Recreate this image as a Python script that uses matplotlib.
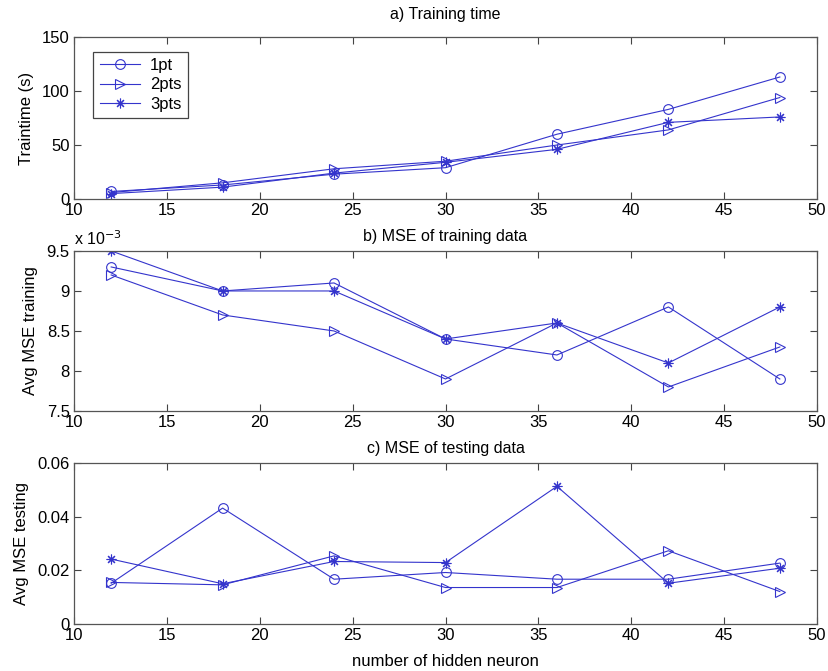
import matplotlib
matplotlib.use('Agg')
import matplotlib.pyplot as plt
from matplotlib.ticker import FuncFormatter

plt.rcParams['font.family'] = ['Liberation Sans', 'DejaVu Sans']
plt.rcParams['font.size'] = 12

# Data
neurons = [12, 18, 24, 30, 36, 42, 48]
labels = ['1pt', '2pts', '3pts']

# a) training time (s)
time_1pt = [7, 13, 23, 29, 60, 83, 113]
time_2pts = [6, 15, 28, 35, 50, 64, 94]
time_3pts = [5, 11, 24, 34, 46, 71, 76]

# b) MSE of training data (x 1e-3)
train_1pt = [9.3, 9.0, 9.1, 8.4, 8.2, 8.8, 7.9]
train_2pts = [9.2, 8.7, 8.5, 7.9, 8.6, 7.8, 8.3]
train_3pts = [9.5, 9.0, 9.0, 8.4, 8.6, 8.1, 8.8]

# c) MSE of testing data
test_1pt = [0.0152, 0.0432, 0.0167, 0.0192, 0.0167, 0.0167, 0.0227]
test_2pts = [0.0155, 0.0146, 0.0254, 0.0136, 0.0136, 0.0273, 0.0121]
test_3pts = [0.0242, 0.0150, 0.0233, 0.0229, 0.0513, 0.0152, 0.0208]

BLUE = '#3434cc'
markers = ['o', '>', (8, 2, 0)]
fmt = FuncFormatter(lambda v, p: '%g' % round(v, 6))

fig = plt.figure(figsize=(8.29, 6.71), dpi=100)
ax_a = fig.add_axes([0.0893, 0.7034, 0.8962, 0.2414])
ax_b = fig.add_axes([0.0893, 0.3875, 0.8962, 0.2385])
ax_c = fig.add_axes([0.0893, 0.0700, 0.8962, 0.2400])


def style(ax):
    ax.set_xlim(10, 50)
    ax.set_xticks(range(10, 51, 5))
    ax.tick_params(direction='in', top=True, right=True, length=5,
                   width=0.8, color='#444444', pad=3)
    for s in ax.spines.values():
        s.set_color('#555555')
        s.set_linewidth(0.9)
    ax.yaxis.set_major_formatter(fmt)


def draw(ax, series):
    for ys, m, lab in zip(series, markers, labels):
        ms = 7
        ax.plot(neurons, ys, color=BLUE, lw=0.8, marker=m, ms=ms,
                mfc='none', mec=BLUE, mew=0.8, label=lab)


draw(ax_a, [time_1pt, time_2pts, time_3pts])
style(ax_a)
ax_a.set_ylim(0, 150)
ax_a.set_yticks([0, 50, 100, 150])
ax_a.set_ylabel('Traintime (s)', labelpad=6)
ax_a.set_title('a) Training time', fontsize=11.5, pad=13)
leg = ax_a.legend(loc='upper left', bbox_to_anchor=(0.026, 0.91),
                  fancybox=False, framealpha=1, edgecolor='#444444',
                  borderpad=0.4, labelspacing=0.25, handlelength=2.4,
                  handletextpad=0.6, borderaxespad=0)
leg.get_frame().set_linewidth(0.9)

draw(ax_b, [train_1pt, train_2pts, train_3pts])
style(ax_b)
ax_b.set_ylim(7.5, 9.5)
ax_b.set_yticks([7.5, 8, 8.5, 9, 9.5])
ax_b.set_ylabel('Avg MSE training', labelpad=6)
ax_b.set_title('b) MSE of training data', fontsize=11.5, pad=7)
ax_b.text(0.0, 1.02, 'x 10$^{-3}$', transform=ax_b.transAxes,
          fontsize=11.5, ha='left', va='bottom')

draw(ax_c, [test_1pt, test_2pts, test_3pts])
style(ax_c)
ax_c.set_ylim(0, 0.06)
ax_c.set_yticks([0, 0.02, 0.04, 0.06])
ax_c.set_ylabel('Avg MSE testing', labelpad=6)
ax_c.set_title('c) MSE of testing data', fontsize=11.5, pad=7)
ax_c.set_xlabel('number of hidden neuron', labelpad=8)

fig.savefig('out.png', dpi=100)
